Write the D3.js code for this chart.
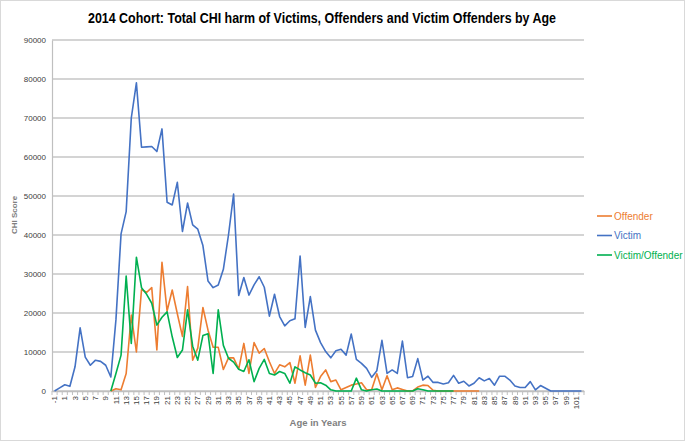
<!DOCTYPE html>
<html>
<head>
<meta charset="utf-8">
<script src="https://cdn.jsdelivr.net/npm/d3@7"></script>
<style>
  html, body { margin: 0; padding: 0; background: #fff; }
  svg { display: block; font-family: "Liberation Sans Narrow", "Liberation Sans", "DejaVu Sans", sans-serif; }
</style>
</head>
<body>
<svg id="chart" width="685" height="441"></svg>
<script>
// ---------- DATA ----------
const title = "2014 Cohort: Total CHI harm of Victims, Offenders and Victim Offenders by Age";
const ages = [-1,0,1,2,3,4,5,6,7,8,9,10,11,12,13,14,15,16,17,18,19,20,21,22,23,24,25,26,27,28,29,30,
  31,32,33,34,35,36,37,38,39,40,41,42,43,44,45,46,47,48,49,50,51,52,53,54,55,56,57,58,59,60,
  61,62,63,64,65,66,67,68,69,70,71,72,73,74,75,76,77,78,79,80,81,82,83,84,85,86,87,88,89,90,
  91,92,93,94,95,96,97,98,99,100,101,102];
const yTicks = [0,10000,20000,30000,40000,50000,60000,70000,80000,90000];

const victim = [0,800,1600,1200,6200,16200,8700,6600,7900,7600,6600,3600,18300,40300,46000,70000,79000,
  62500,62600,62700,61400,67200,48400,47700,53500,40900,48200,42600,41500,37300,28200,26500,27200,
  31200,40000,50500,24500,29100,24600,27200,29300,26600,19200,24800,19100,16700,18000,18500,34600,
  16300,24200,15600,12400,10100,8500,10300,10700,9200,14600,8100,7100,5800,3500,5200,13000,4500,
  5400,4500,12800,3400,3700,8300,2800,3800,2200,2200,1800,2100,4000,2000,2500,1300,2000,3400,2600,
  3200,1500,3800,3800,2800,1300,900,900,2400,300,1400,700,0,0,0,0,0,0,0];

const offender = [null,null,null,null,null,null,null,null,null,null,null,0,600,300,4500,19500,10000,
  26000,25300,26500,10500,33000,20500,25900,19800,14000,26800,7900,11000,21400,15600,11200,11200,
  5500,8500,8500,5600,12200,4500,12400,9700,10900,7500,4500,6700,6200,7300,2000,9000,1500,9200,900,
  3700,5400,2400,2800,300,900,1500,1800,2100,300,400,4400,300,3900,300,800,400,0,0,1000,1500,1400,
  200,0,0,0,0,0,0,0,0,0,null,null,null,null,null,null,null,null,null,null,null,null,null,null,null,
  null,null,null,null,null];

const victimOffender = [null,null,null,null,null,null,null,null,null,null,null,0,4500,9200,29500,12200,
  34300,26500,24800,22500,16900,18900,20300,13900,8600,10500,20800,11500,7900,14200,14700,4500,20800,
  11700,8400,7400,5600,5000,8000,2400,5800,8100,4500,4100,5000,4500,2000,6200,5400,4700,4100,2000,
  2100,1500,300,0,0,0,0,3300,300,0,300,500,0,0,0,0,0,0,0,600,300,0,0,0,0,0,0,null,null,null,null,
  null,null,null,null,null,null,null,null,null,null,null,null,null,null,null,null,null,null,null,null,null];

const seriesNames = ["Offender", "Victim", "Victim/Offender"];
const seriesColors = ["#ED7D31", "#4472C4", "#00B050"];
const seriesData = [offender, victim, victimOffender];

// ---------- LAYOUT ----------
const svg = d3.select("#chart");
const L = 52, R = 584, T = 40, B = 391;

svg.append("rect").attr("x", 0.5).attr("y", 0.5).attr("width", 684).attr("height", 440)
  .attr("fill", "#fff").attr("stroke", "#d9d9d9");

const x = d3.scaleBand().domain(ages).range([L, R]).padding(0);
const xc = a => x(a) + x.bandwidth() / 2;
const y = d3.scaleLinear().domain([0, 90000]).range([B, T]);

// gridlines
svg.append("g").selectAll("line").data(yTicks).join("line")
  .attr("x1", L).attr("x2", R).attr("y1", d => y(d)).attr("y2", d => y(d))
  .attr("stroke", "#c6c6c6").attr("stroke-width", 1.3);

// y axis
const yAxis = d3.axisLeft(y).tickValues(yTicks).tickSize(0).tickPadding(6).tickFormat(d3.format("d"));
const gy = svg.append("g").attr("transform", `translate(${L},0)`).call(yAxis);
gy.select(".domain").attr("stroke", "#bfbfbf").attr("stroke-width", 1.2);
gy.selectAll("text").attr("font-size", 8).attr("fill", "#404040")
  .attr("font-family", "'Liberation Sans Narrow','Liberation Sans',sans-serif");

// x axis
const xAxis = d3.axisBottom(x).tickSize(0).tickPadding(4)
  .tickFormat(d => (Math.abs(d) % 2 === 1) ? String(d) : "");
const gx = svg.append("g").attr("transform", `translate(0,${B})`).call(xAxis);
gx.select(".domain").attr("stroke", "#bfbfbf").attr("stroke-width", 1.3);
gx.selectAll("text")
  .attr("font-size", 8).attr("fill", "#404040")
  .attr("transform", "rotate(-90)")
  .attr("text-anchor", "end").attr("dy", "0.32em").attr("x", -5).attr("y", 0);
// category boundary tick marks
svg.append("g").selectAll("line").data(ages.concat(["end"])).join("line")
  .attr("x1", d => d === "end" ? R : x(d)).attr("x2", d => d === "end" ? R : x(d))
  .attr("y1", B).attr("y2", B + 4)
  .attr("stroke", "#bfbfbf").attr("stroke-width", 1);

// lines
const line = d3.line().defined(d => d.v !== null).x(d => xc(d.a)).y(d => y(d.v));
seriesData.forEach((vals, i) => {
  const pts = ages.map((a, j) => ({ a, v: vals[j] }));
  svg.append("path").datum(pts).attr("d", line)
    .attr("fill", "none").attr("stroke", seriesColors[i])
    .attr("stroke-width", 1.6).attr("stroke-linejoin", "round");
});

// title
svg.append("text").attr("x", 322).attr("y", 23).attr("text-anchor", "middle")
  .attr("font-size", 15).attr("font-weight", "bold").attr("fill", "#000")
  .attr("textLength", 468).attr("lengthAdjust", "spacingAndGlyphs")
  .text(title);

// axis titles
svg.append("text").attr("transform", "translate(17,215) rotate(-90)")
  .attr("text-anchor", "middle").attr("font-size", 8).attr("font-weight", "bold")
  .attr("fill", "#808080").text("CHI Score");
svg.append("text").attr("x", 318).attr("y", 426).attr("text-anchor", "middle")
  .attr("font-size", 9.5).attr("font-weight", "bold").attr("fill", "#808080")
  .text("Age in Years");

// legend
const lg = svg.append("g");
seriesNames.forEach((n, i) => {
  const ly = 216 + i * 19.5;
  lg.append("line").attr("x1", 597).attr("x2", 612).attr("y1", ly).attr("y2", ly)
    .attr("stroke", seriesColors[i]).attr("stroke-width", 1.6);
  lg.append("text").attr("x", 614).attr("y", ly).attr("dy", "0.35em")
    .attr("font-size", 10).attr("fill", seriesColors[i]).text(n);
});
</script>
</body>
</html>
